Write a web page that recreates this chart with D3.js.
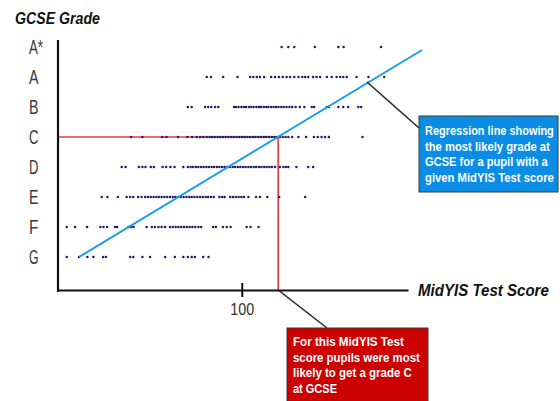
<!DOCTYPE html>
<html>
<head>
<meta charset="utf-8">
<script src="https://cdn.jsdelivr.net/npm/d3@7"></script>
<style>
  body { margin: 0; background: #fff; }
  svg text { font-family: "Liberation Sans", Arial, sans-serif; }
</style>
</head>
<body>
<div id="chart" style="width:560px;height:401px"></div>
<script>
// grade rows, bottom to top
const grades = ["G", "F", "E", "D", "C", "B", "A", "A*"];

// MidYIS scores of pupils, one list per GCSE grade
const scoresAstar = [111.4, 113.3, 115.0, 120.9, 127.6, 129.1, 139.8];
const scoresA = [90.0, 91.2, 94.7, 98.8, 102.4, 103.3, 104.3, 105.2, 106.4, 108.4, 109.5, 110.6, 111.7, 112.8,
  113.8, 115.0, 116.2, 117.3, 118.1, 119.0, 120.4, 121.4, 122.4, 124.3, 125.7, 127.1, 128.1, 129.0, 130.0,
  132.8, 136.2, 140.7];
const scoresB = [84.6, 85.7, 89.5, 90.4, 91.3, 92.4, 93.3,
  97.8, 98.4, 99.1, 99.9, 100.6, 101.2, 102.0, 102.7, 103.4, 104.2, 104.9, 105.5, 106.3, 107.0, 107.6,
  108.4, 109.1, 109.8, 110.5, 111.3, 112.0, 112.8, 113.6, 114.4,
  115.4, 116.6, 117.9, 120.0, 120.7, 124.3, 124.9, 127.6, 129.0, 130.4, 133.3, 134.1];
const scoresC = [68.4, 71.6, 77.3, 78.5, 81.8, 84.5, 85.8, 87.1, 88.1, 89.0,
  90.0, 90.8, 91.5, 92.3, 93.1, 93.9, 94.6, 95.4, 96.2, 97.0, 97.7, 98.5, 99.3, 100.1, 100.8, 101.6,
  102.4, 103.2, 103.9, 104.7, 105.5, 106.3, 107.0, 107.8, 108.6, 109.4, 110.1, 110.9, 111.7, 112.5, 113.3,
  114.4, 116.2, 118.4, 120.6, 121.7, 122.8, 123.8, 124.9, 134.5];
const scoresD = [65.7, 66.8, 70.6, 71.6, 72.5, 74.0, 74.9, 77.4, 78.4, 79.6, 80.8, 83.3,
  84.6, 85.4, 86.1, 86.9, 87.6, 88.4, 89.1, 89.9, 90.6, 91.4, 92.1, 92.9, 93.6, 94.4, 95.1, 95.9, 96.6,
  97.4, 98.1, 98.9, 99.6, 100.4, 101.1, 101.9, 102.6, 103.4, 104.1, 104.9, 105.6, 106.4, 107.1, 107.9, 108.6,
  109.5, 110.9, 111.9, 112.6, 113.3, 115.6, 119.0, 120.4];
const scoresE = [60.0, 61.6, 64.6, 67.1, 68.1, 69.0, 70.4, 71.4,
  72.4, 73.2, 74.0, 74.8, 75.6, 76.3, 77.1, 77.9, 78.7, 79.5, 80.3, 81.0, 81.8, 82.6, 83.4, 84.2, 85.0,
  85.7, 86.5, 87.3, 88.1, 88.9, 89.7, 90.4, 91.2, 92.0, 93.6, 94.4, 95.1, 96.7, 97.5, 98.3, 99.1, 99.9,
  100.6, 101.9, 104.1, 105.2, 107.3, 110.7, 118.1];
const scoresF = [50.0, 52.4, 55.8, 59.6, 60.5, 61.5, 63.8, 64.4, 67.6, 68.4, 69.1, 72.8, 74.3, 75.2, 76.2,
  77.1, 78.1, 79.5, 80.3, 81.1, 81.9, 82.7, 83.5, 84.3, 85.1, 85.9, 86.7, 87.6, 88.4, 91.8, 92.6, 94.6,
  95.7, 96.8, 101.4, 102.5, 104.8];
const scoresG = [50.0, 53.5, 55.9, 57.6, 60.4, 61.2, 68.1, 69.0, 71.6, 73.8, 78.1, 80.9, 83.3, 84.6, 85.7,
  86.6, 89.0, 90.5];

// regression line end points [score, grade index]
const regression = [[53.5, 0], [151.5, 6.9]];
// score where the regression line gives a grade C
const gradeCScore = 110.4;
const xTicks = [100];

const blueNote = ["Regression line showing", "the most likely grade at", "GCSE for a pupil with a", "given MidYIS Test score"];
const redNote = ["For this MidYIS Test", "score pupils were most", "likely to get a grade C", "at GCSE"];

// no condensed font installed: shrink the font to the wanted width,
// then stretch it back up to the original height
function narrow(sel, widthOf) {
    sel.each(function (d, i) {
        const t = d3.select(this);
        const target = typeof widthOf === "function" ? widthOf(d, i) : widthOf;
        const fs = parseFloat(t.style("font-size"));
        const k = this.getComputedTextLength() / target;
        const x0 = +t.attr("x") || 0, y0 = +t.attr("y") || 0;
        t.style("font-size", (fs / k) + "px")
            .attr("x", 0).attr("y", 0)
            .attr("transform", `translate(${x0},${y0}) scale(1,${k})`);
    });
}

function drawChart(selector) {
    const width = 560, height = 401;
    const axisY = 290, axisLeft = 58, axisRight = 408;

    const svg = d3.select(selector).append("svg")
        .attr("width", width)
        .attr("height", height);

    const x = d3.scaleLinear().domain([47.5, 147.5]).range([axisLeft, axisRight]);
    const y = d3.scaleLinear().domain([0, 7]).range([257, 47]);

    const rows = [scoresG, scoresF, scoresE, scoresD, scoresC, scoresB, scoresA, scoresAstar];
    const points = [];
    rows.forEach((scores, g) => scores.forEach(s => points.push({ score: s, grade: g })));

    // red guide lines for grade C
    svg.append("path")
        .attr("d", `M${axisLeft},${y(4)}H${x(gradeCScore)}V${axisY}`)
        .attr("fill", "none")
        .attr("stroke", "#e8383d")
        .attr("stroke-width", 1.6);

    // pupils
    svg.append("g").selectAll("circle")
        .data(points)
        .join("circle")
        .attr("cx", d => x(d.score))
        .attr("cy", d => y(d.grade))
        .attr("r", 1.25)
        .attr("fill", "#1c1c6a");

    // regression line
    svg.append("line")
        .attr("x1", x(regression[0][0])).attr("y1", y(regression[0][1]))
        .attr("x2", x(regression[1][0])).attr("y2", y(regression[1][1]))
        .attr("stroke", "#1b9cec")
        .attr("stroke-width", 2);

    // axes
    svg.append("line")
        .attr("x1", axisLeft).attr("x2", axisLeft)
        .attr("y1", 40).attr("y2", axisY + 2)
        .attr("stroke", "#111").attr("stroke-width", 2.2);

    const xAxis = svg.append("g")
        .attr("transform", `translate(0,${axisY})`)
        .call(d3.axisBottom(x).tickValues(xTicks).tickSize(7).tickSizeOuter(0));
    xAxis.select(".domain").attr("stroke", "#111").attr("stroke-width", 2.2);
    xAxis.selectAll(".tick line").attr("y1", -7).attr("stroke", "#111").attr("stroke-width", 2);
    xAxis.selectAll(".tick text")
        .attr("y", 25)
        .attr("dy", null)
        .attr("x", -12)
        .attr("text-anchor", "start")
        .attr("fill", "#333")
        .style("font-size", "16px")
        .style("font-family", '"Liberation Sans", Arial, sans-serif')
        .call(narrow, 24);

    svg.append("g").selectAll("text")
        .data(grades)
        .join("text")
        .attr("x", 29)
        .attr("y", (d, i) => y(i) + 7)
        .attr("fill", "#3a3a3a")
        .style("font-size", "19.5px")
        .text(d => d)
        .call(narrow, d => d.length > 1 ? 14 : 9.5);

    svg.append("text")
        .attr("x", 15).attr("y", 24)
        .style("font-size", "17px")
        .style("font-weight", "bold")
        .style("font-style", "italic")
        .attr("fill", "#111")
        .text("GCSE Grade")
        .call(narrow, 85);

    svg.append("text")
        .attr("x", 418).attr("y", 296)
        .style("font-size", "17px")
        .style("font-weight", "bold")
        .style("font-style", "italic")
        .attr("fill", "#111")
        .text("MidYIS Test Score")
        .call(narrow, 131);

    // callout: regression line
    const bx = 419, by = 116;
    const blueWidths = [129, 125, 123, 129];
    svg.append("line")
        .attr("x1", 367).attr("y1", 82).attr("x2", bx).attr("y2", 128)
        .attr("stroke", "#222").attr("stroke-width", 1.5);
    svg.append("rect")
        .attr("x", bx).attr("y", by).attr("width", 139).attr("height", 76)
        .attr("fill", "#0b8de6").attr("stroke", "#3a3a3a").attr("stroke-width", 1);
    svg.append("g").selectAll("text")
        .data(blueNote)
        .join("text")
        .attr("x", bx + 6)
        .attr("y", (d, i) => by + 19 + i * 15.5)
        .attr("fill", "#fff")
        .style("font-size", "13px")
        .style("font-weight", "bold")
        .text(d => d)
        .call(narrow, (d, i) => blueWidths[i]);

    // callout: grade C reading
    const rx = 287, ry = 328;
    const redWidths = [111, 127, 119, 44];
    svg.append("line")
        .attr("x1", x(gradeCScore)).attr("y1", axisY).attr("x2", 327).attr("y2", ry)
        .attr("stroke", "#222").attr("stroke-width", 1.5);
    svg.append("rect")
        .attr("x", rx).attr("y", ry).attr("width", 141).attr("height", 80)
        .attr("fill", "#cc0000").attr("stroke", "#3a3a3a").attr("stroke-width", 1);
    svg.append("g").selectAll("text")
        .data(redNote)
        .join("text")
        .attr("x", rx + 6)
        .attr("y", (d, i) => ry + 18 + i * 15.5)
        .attr("fill", "#fff")
        .style("font-size", "13px")
        .style("font-weight", "bold")
        .text(d => d)
        .call(narrow, (d, i) => redWidths[i]);
}

drawChart("#chart");
</script>
</body>
</html>
